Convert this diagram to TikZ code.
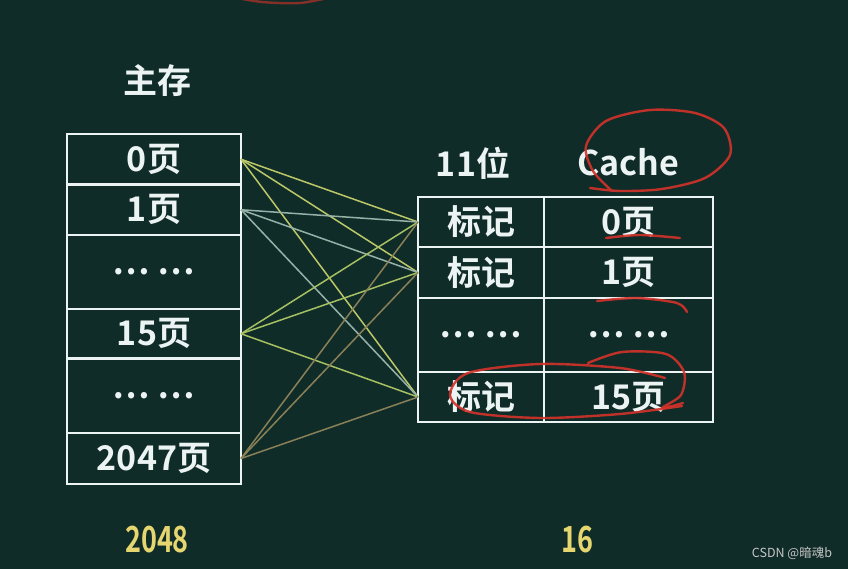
\documentclass[tikz,border=0pt]{standalone}
\usepackage{fontspec}
\setmainfont{Noto Sans CJK SC}[BoldFont={Noto Sans CJK SC Bold}]
\definecolor{board}{RGB}{16,44,40}
\definecolor{chalk}{RGB}{236,243,243}
\definecolor{gold}{RGB}{230,214,112}
\definecolor{pen}{RGB}{212,50,42}
\definecolor{wireA}{RGB}{188,200,104}
\definecolor{wireB}{RGB}{150,178,168}
\definecolor{wireC}{RGB}{166,192,98}
\definecolor{wireD}{RGB}{138,128,88}
\tikzset{
  cell/.style={draw=chalk, line width=2.4pt,
    inner sep=0pt, outer sep=0pt, text=chalk, font=\fontsize{34}{38}\selectfont\bfseries},
  head/.style={text=chalk, font=\fontsize{34}{38}\selectfont\bfseries},
  count/.style={text=gold, font=\fontsize{36}{40}\selectfont\bfseries},
  wire/.style={line width=1.5pt},
  scrawl/.style={draw=pen, line width=2.4pt, line cap=round, line join=round, opacity=0.9}
}
\begin{document}
\begin{tikzpicture}[x=1pt, y=-1pt]
  \fill[board] (0,0) rectangle (848,569);
  \useasboundingbox (0,0) rectangle (848,569);
  % main memory
  \node[head] (memT) at (157,81) {主存};
  \node[cell, minimum width=174, minimum height=50.5] (M0) at (154,159.25) {0页};
  \node[cell, minimum width=174, minimum height=50.5] (M1) at (154,209.75) {1页};
  \node[cell, minimum width=174, minimum height=74] (M2) at (154,272) {… …};
  \node[cell, minimum width=174, minimum height=49.5] (M15) at (154,333.75) {15页};
  \node[cell, minimum width=174, minimum height=74.5] (M3) at (154,395.75) {… …};
  \node[cell, minimum width=174, minimum height=51] (M2047) at (154,458.5) {2047页};
  % cache
  \node[head] (bits) at (473,163) {11位};
  \node[head] (cacheT) at (628,162) {Cache};
  \node[cell, minimum width=126, minimum height=50] (T0) at (481,222) {标记};
  \node[cell, minimum width=126, minimum height=51] (T1) at (481,272.5) {标记};
  \node[cell, minimum width=126, minimum height=74] (T2) at (481,335) {… …};
  \node[cell, minimum width=126, minimum height=50] (T15) at (481,397) {标记};
  \node[cell, minimum width=169, minimum height=50] (C0) at (628.5,222) {0页};
  \node[cell, minimum width=169, minimum height=51] (C1) at (628.5,272.5) {1页};
  \node[cell, minimum width=169, minimum height=74] (C2) at (628.5,335) {… …};
  \node[cell, minimum width=169, minimum height=50] (C15) at (628.5,397) {15页};
  % mapping
  \path (M0.east) edge [wire, wireA] (T0.west);
  \path (M0.east) edge [wire, wireA] (T1.west);
  \path (M0.east) edge [wire, wireA] (T15.west);
  \path (M1.east) edge [wire, wireB] (T0.west);
  \path (M1.east) edge [wire, wireB] (T1.west);
  \path (M1.east) edge [wire, wireB] (T15.west);
  \path (M15.east) edge [wire, wireC] (T0.west);
  \path (M15.east) edge [wire, wireC] (T1.west);
  \path (M15.east) edge [wire, wireC] (T15.west);
  \path (M2047.east) edge [wire, wireD] (T0.west);
  \path (M2047.east) edge [wire, wireD] (T1.west);
  \path (M2047.east) edge [wire, wireD] (T15.west);
  % sizes
  \node[count] (n2048) at (157,540) {\scalebox{0.75}[1]{2048}};
  \node[count] (n16) at (577,540) {\scalebox{0.75}[1]{16}};
  \node[text=black!22, font=\fontsize{12.5}{14}\selectfont] (sign) at (792,553) {CSDN @暗魂b};
  % pen marks
  \draw[scrawl, opacity=0.6] plot[smooth] coordinates {(232,-3) (262,2) (300,3) (332,-3)};
  \draw[scrawl] plot[smooth] coordinates {(590,188) (620,191) (662,189) (705,178) (730,155) (724,128) (695,113) (650,110) (606,121) (586,146) (593,171) (612,191)};
  \draw[scrawl] plot[smooth] coordinates {(606,238) (640,235) (680,238)};
  \draw[scrawl] plot[smooth] coordinates {(597,301) (637,298) (677,303) (687,312)};
  \draw[scrawl] plot[smooth] coordinates {(682,406) (620,414) (540,418) (470,412) (450,395) (468,373) (540,364) (620,368) (665,378)};
  \draw[scrawl] plot[smooth] coordinates {(588,363) (622,352) (666,354) (684,372) (681,395) (662,408) (683,403)};
\end{tikzpicture}
\end{document}
